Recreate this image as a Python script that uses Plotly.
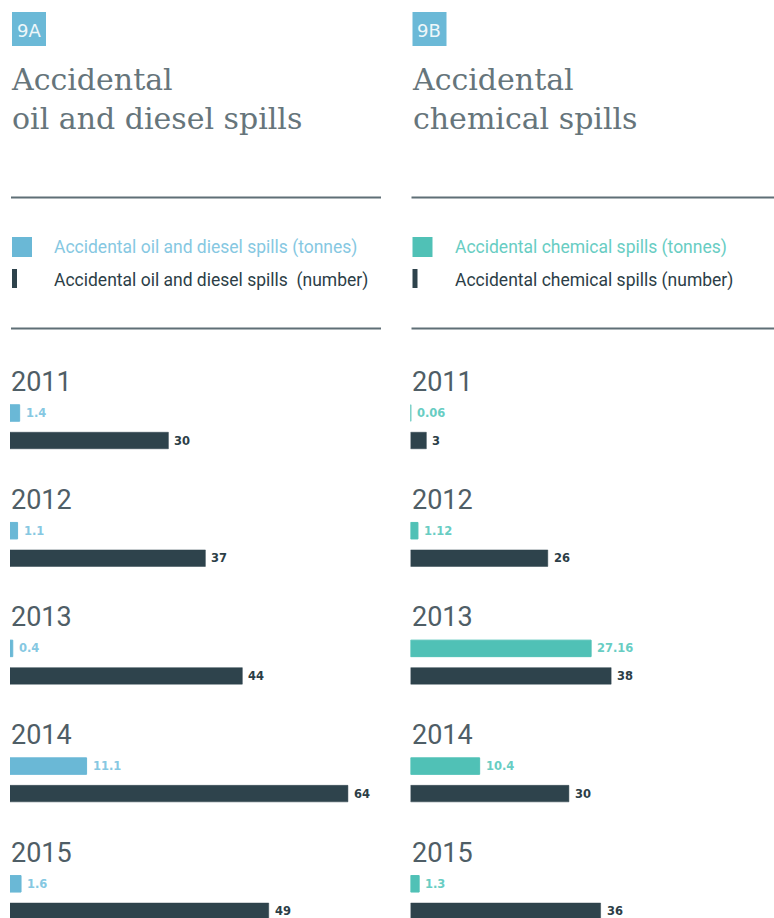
import plotly.graph_objects as go

# ---- data -------------------------------------------------------------
years = ["2011", "2012", "2013", "2014", "2015"]
oil_tonnes = [1.4, 1.1, 0.4, 11.1, 1.6]
oil_number = [30, 37, 44, 64, 49]
chem_tonnes = [0.06, 1.12, 27.16, 10.4, 1.3]
chem_number = [3, 26, 38, 30, 36]

panel_codes = ["9A", "9B"]
panel_titles = ["Accidental<br>oil and diesel spills", "Accidental<br>chemical spills"]
legend_tonnes = ["Accidental oil and diesel spills (tonnes)", "Accidental chemical spills (tonnes)"]
legend_number = ["Accidental oil and diesel spills  (number)", "Accidental chemical spills (number)"]

# ---- styling ----------------------------------------------------------
W, H = 774, 918
BLUE = "#6ab8d6"
BLUE_TXT = "#86c8e2"
TEAL = "#50c1b6"
TEAL_TXT = "#68cdc3"
DARK = "#2e434c"
DARK_TXT = "#2c3e47"
GREY = "#5f6f76"
YEAR_GREY = "#4f5e66"
BADGE = "#6bb9d7"

# layout in pixels (converted to paper fractions)
PANEL_X = [10, 410.5]          # left edge of bars per panel
PANEL_R = [385, 774]           # right edge of plot area per panel
RULE_R = [381, 774]            # right end of the horizontal rules
PX_PER_NUMBER = 5.28
PX_PER_TONNE = [6.9, 6.65]
ROW = 117.7                    # pixels between year groups
FIRST_ROW = 382                # pixel centre of the first year label
TOP_PX = 355                   # top of the bar area
OFF_T = 31 / ROW               # tonnes bar offset below year label
OFF_N = 58.5 / ROW             # number bar offset below year label
BAR_W = 16.5 / ROW


def px(x):
    return x / W


def py(y):
    return 1 - y / H


y_top = (TOP_PX - FIRST_ROW) / ROW
y_bottom = (H - FIRST_ROW) / ROW

fig = go.Figure()
panels = [(oil_tonnes, oil_number, BLUE, BLUE_TXT), (chem_tonnes, chem_number, TEAL, TEAL_TXT)]

annotations = []
shapes = []
layout_axes = {}

for p, (tonnes, number, col, col_txt) in enumerate(panels):
    xn = "x" if p == 0 else "x3"
    xt = "x2" if p == 0 else "x4"
    ya = "y" if p == 0 else "y2"
    dom = [px(PANEL_X[p]), px(PANEL_R[p])]
    width_px = PANEL_R[p] - PANEL_X[p]

    n_key = "xaxis" if p == 0 else "xaxis3"
    t_key = "xaxis2" if p == 0 else "xaxis4"
    y_key = "yaxis" if p == 0 else "yaxis2"
    layout_axes[n_key] = dict(domain=dom, range=[0, width_px / PX_PER_NUMBER], visible=False,
                              anchor=ya, fixedrange=True)
    layout_axes[t_key] = dict(domain=dom, range=[0, width_px / PX_PER_TONNE[p]], visible=False,
                              overlaying=xn, anchor=ya, fixedrange=True)
    layout_axes[y_key] = dict(domain=[0, py(TOP_PX)], range=[y_bottom, y_top], visible=False,
                              anchor=xn, fixedrange=True)

    pos_t = [i + OFF_T for i in range(len(years))]
    pos_n = [i + OFF_N for i in range(len(years))]

    fig.add_trace(go.Bar(x=tonnes, y=pos_t, orientation="h", width=BAR_W,
                         marker=dict(color=col, line=dict(color=col, width=1)),
                         xaxis=xt, yaxis=ya, showlegend=False, hoverinfo="skip"))
    fig.add_trace(go.Bar(x=number, y=pos_n, orientation="h", width=BAR_W,
                         marker=dict(color=DARK, line=dict(color=DARK, width=0.5)),
                         xaxis=xn, yaxis=ya, showlegend=False, hoverinfo="skip"))

    # value labels
    for i in range(len(years)):
        annotations.append(dict(x=tonnes[i], y=pos_t[i], xref=xt, yref=ya, text=str(tonnes[i]),
                                xanchor="left", yanchor="middle", xshift=4, showarrow=False,
                                font=dict(family="DejaVu Sans", size=11.5, color=col_txt, weight="bold")))
        annotations.append(dict(x=number[i], y=pos_n[i], xref=xn, yref=ya, text=str(number[i]),
                                xanchor="left", yanchor="middle", xshift=4, showarrow=False,
                                font=dict(family="DejaVu Sans", size=11.5, color=DARK_TXT, weight="bold")))
        # year headings
        annotations.append(dict(x=px(PANEL_X[p] - 1), y=i, xref="paper", yref=ya, text=years[i],
                                xanchor="left", yanchor="middle", showarrow=False,
                                font=dict(family="Roboto", size=27, color=YEAR_GREY)))

    left = PANEL_X[p] + 2
    # badge
    shapes.append(dict(type="rect", xref="paper", yref="paper", x0=px(left), x1=px(left + 34),
                       y0=py(12), y1=py(46), fillcolor=BADGE, line=dict(width=0), layer="below"))
    annotations.append(dict(x=px(left + 17), y=py(31), xref="paper", yref="paper", text=panel_codes[p],
                            xanchor="center", yanchor="middle", showarrow=False,
                            font=dict(family="DejaVu Sans", size=18, color="#eef7fa")))
    # title
    annotations.append(dict(x=px(left - 3), y=py(60), xref="paper", yref="paper", text=panel_titles[p],
                            xanchor="left", yanchor="top", align="left", showarrow=False,
                            font=dict(family="DejaVu Serif", size=30, color="#66757b")))
    # horizontal rules
    for yy in (197.5, 328.5):
        shapes.append(dict(type="line", xref="paper", yref="paper", x0=px(PANEL_X[p] + 1),
                           x1=px(RULE_R[p]), y0=py(yy), y1=py(yy),
                           line=dict(color=GREY, width=2.2)))
    # legend keys
    shapes.append(dict(type="rect", xref="paper", yref="paper", x0=px(left), x1=px(left + 20),
                       y0=py(237), y1=py(257), fillcolor=col, line=dict(width=0)))
    shapes.append(dict(type="rect", xref="paper", yref="paper", x0=px(left), x1=px(left + 5),
                       y0=py(269), y1=py(288), fillcolor=DARK, line=dict(width=0)))
    annotations.append(dict(x=px(left + 40), y=py(247), xref="paper", yref="paper", text=legend_tonnes[p],
                            xanchor="left", yanchor="middle", showarrow=False,
                            font=dict(family="Roboto", size=17.5, color=col_txt)))
    annotations.append(dict(x=px(left + 40), y=py(280), xref="paper", yref="paper", text=legend_number[p],
                            xanchor="left", yanchor="middle", showarrow=False,
                            font=dict(family="Roboto", size=17.5, color=DARK_TXT)))

fig.update_layout(
    width=W, height=H,
    margin=dict(l=0, r=0, t=0, b=0),
    paper_bgcolor="white", plot_bgcolor="rgba(0,0,0,0)",
    barmode="overlay",
    showlegend=False,
    annotations=annotations,
    shapes=shapes,
    **layout_axes,
)

fig.write_html("out.html", config={"displayModeBar": False})
